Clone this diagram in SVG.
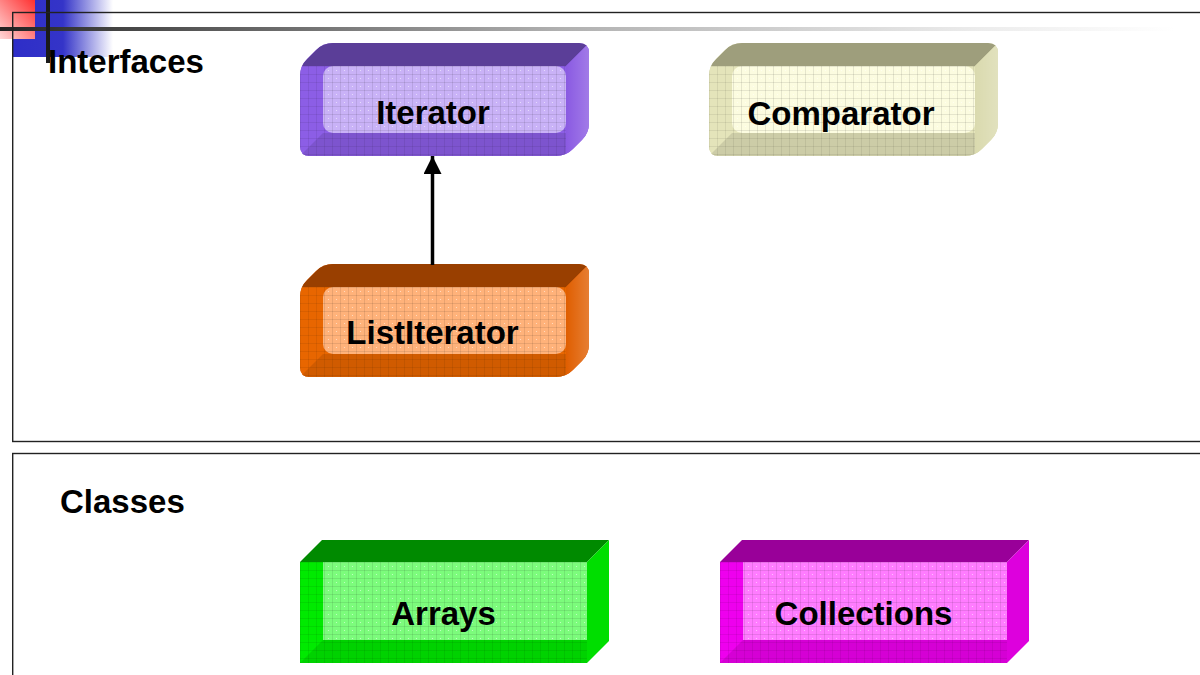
<svg xmlns="http://www.w3.org/2000/svg" width="1200" height="675" viewBox="0 0 1200 675">
<style>
  text { font-family: "Liberation Sans", Arial, sans-serif; font-weight: bold; font-size: 33px; fill: #000; }
  .lbl { text-anchor: middle; }
  .frame { fill: none; stroke: #222; stroke-width: 1.4; }
  .shade { fill: #000; fill-opacity: 0.1; }
  .conn { stroke: #000; stroke-width: 3.5; fill: none; }
</style>
<defs>
  <linearGradient id="blueFade" x1="0" y1="0" x2="1" y2="0">
    <stop offset="0" stop-color="#2e2ec8"/>
    <stop offset="0.5" stop-color="#3434c8"/>
    <stop offset="1" stop-color="#ffffff"/>
  </linearGradient>
  <linearGradient id="redFade" x1="1" y1="0" x2="0" y2="1">
    <stop offset="0" stop-color="#ff3030"/>
    <stop offset="1" stop-color="#ffd8d8"/>
  </linearGradient>
  <linearGradient id="lineFade" x1="0" y1="0" x2="1" y2="0">
    <stop offset="0" stop-color="#222"/>
    <stop offset="0.085" stop-color="#404040"/>
    <stop offset="0.477" stop-color="#b0b0b0"/>
    <stop offset="0.834" stop-color="#ececec"/>
    <stop offset="1" stop-color="#ffffff"/>
  </linearGradient>
  <linearGradient id="sideGlow" x1="0" y1="0" x2="1" y2="0">
    <stop offset="0" stop-color="#fff" stop-opacity="0"/>
    <stop offset="1" stop-color="#fff" stop-opacity="0.2"/>
  </linearGradient>
  <pattern id="lgrid" width="8" height="8" patternUnits="userSpaceOnUse">
    <path d="M0,0.5H8M0.5,0V8" stroke="#000" stroke-opacity="0.09" stroke-width="1"/>
    <circle cx="4.5" cy="4.5" r="0.6" fill="#fff" fill-opacity="0.6"/>
  </pattern>
  <pattern id="dgrid" width="8" height="8" patternUnits="userSpaceOnUse">
    <path d="M0,0.5H8M0.5,0V8" stroke="#000" stroke-opacity="0.07" stroke-width="1"/>
  </pattern>
  <clipPath id="rClip">
    <path d="M0,10 Q0,0 7,-7 L16,-16 Q23,-23 33,-23 L279,-23 Q289,-23 289,-13 L289,57 Q289,67 282,74 L273,83 Q266,90 256,90 L10,90 Q0,90 0,80 Z"/>
  </clipPath>
  <!-- rounded (interface) box faces, front top-left at origin -->
  <rect id="rAll" x="0" y="-23" width="289" height="113"/>
  <polygon id="rTop" points="0,0 23,-23 289,-23 266,0"/>
  <polygon id="rSide" points="266,0 289,-23 289,67 266,90"/>
  <rect id="rFront" x="0" y="0" width="266" height="90"/>
  <polygon id="rBottom" points="0,90 23,67 266,67 266,90"/>
  <rect id="rInner" x="23" y="0" width="243" height="67" rx="10"/>
  <!-- square (class) box faces -->
  <polygon id="sTop" points="0,0 22,-22 309,-22 287,0"/>
  <polygon id="sSide" points="287,0 309,-22 309,79 287,101"/>
  <rect id="sFront" x="0" y="0" width="287" height="101"/>
  <polygon id="sBottom" points="0,101 23,78 287,78 287,101"/>
  <rect id="sInner" x="23" y="0" width="264" height="78"/>
  <marker id="arrowHead" markerUnits="userSpaceOnUse" markerWidth="18" markerHeight="18" refX="18" refY="9" orient="auto">
    <path d="M0,0 L18,9 L0,18 Z" fill="#000"/>
  </marker>
</defs>

<!-- background decoration -->
<rect x="13" y="0" width="100" height="57" fill="url(#blueFade)"/>
<rect x="0" y="0" width="35" height="39" fill="url(#redFade)"/>
<rect x="0" y="27" width="1175" height="4" fill="url(#lineFade)"/>
<rect x="46" y="0" width="4" height="63" fill="#1a1a1a"/>

<!-- frames -->
<rect class="frame" x="12.7" y="12.5" width="1200" height="429"/>
<rect class="frame" x="12.7" y="453.5" width="1200" height="240"/>

<text x="48" y="72.5">Interfaces</text>
<text x="60" y="512.5">Classes</text>

<g id="iterator">
  <g transform="translate(300,66)" clip-path="url(#rClip)">
    <use href="#rAll" fill="#8a5ae2"/>
    <use href="#rTop" fill="#5b3e98"/>
    <use href="#rSide" fill="#8a5ae2"/>
    <use href="#rSide" fill="url(#sideGlow)"/>
    <use href="#rFront" fill="#8c5ee6"/>
    <use href="#rBottom" class="shade"/>
    <use href="#rFront" fill="url(#dgrid)"/>
    <use href="#rInner" fill="#c9b2f7"/>
    <use href="#rInner" fill="url(#lgrid)"/>
  </g>
  <text class="lbl" x="433" y="124">Iterator</text>
</g>

<g id="comparator">
  <g transform="translate(709,66)" clip-path="url(#rClip)">
    <use href="#rAll" fill="#dadaae"/>
    <use href="#rTop" fill="#9e9e7c"/>
    <use href="#rSide" fill="#dadaae"/>
    <use href="#rSide" fill="url(#sideGlow)"/>
    <use href="#rFront" fill="#e4e4ba"/>
    <use href="#rBottom" class="shade"/>
    <use href="#rFront" fill="url(#dgrid)"/>
    <use href="#rInner" fill="#fcfce0"/>
    <use href="#rInner" fill="url(#lgrid)"/>
  </g>
  <text class="lbl" x="841" y="124.5">Comparator</text>
</g>

<g id="listiterator">
  <g transform="translate(300,287)" clip-path="url(#rClip)">
    <use href="#rAll" fill="#e05e00"/>
    <use href="#rTop" fill="#993f00"/>
    <use href="#rSide" fill="#e05e00"/>
    <use href="#rSide" fill="url(#sideGlow)"/>
    <use href="#rFront" fill="#e86600"/>
    <use href="#rBottom" class="shade"/>
    <use href="#rFront" fill="url(#dgrid)"/>
    <use href="#rInner" fill="#ffb27a"/>
    <use href="#rInner" fill="url(#lgrid)"/>
  </g>
  <text class="lbl" x="432.5" y="344">ListIterator</text>
</g>

<g id="arrays">
  <g transform="translate(300,562)">
    <use href="#sTop" fill="#008a00"/>
    <use href="#sSide" fill="#00de00"/>
    <use href="#sFront" fill="#00ea00"/>
    <use href="#sBottom" class="shade"/>
    <use href="#sFront" fill="url(#dgrid)"/>
    <use href="#sInner" fill="#7cfc7c"/>
    <use href="#sInner" fill="url(#lgrid)"/>
  </g>
  <text class="lbl" x="443.5" y="625">Arrays</text>
</g>

<g id="collections">
  <g transform="translate(720,562)">
    <use href="#sTop" fill="#990099"/>
    <use href="#sSide" fill="#dd00dd"/>
    <use href="#sFront" fill="#ee00ee"/>
    <use href="#sBottom" class="shade"/>
    <use href="#sFront" fill="url(#dgrid)"/>
    <use href="#sInner" fill="#ff7cff"/>
    <use href="#sInner" fill="url(#lgrid)"/>
  </g>
  <text class="lbl" x="863.5" y="625">Collections</text>
</g>

<g id="connectors">
  <line class="conn" x1="432.5" y1="265" x2="432.5" y2="156" marker-end="url(#arrowHead)"/>
</g>
</svg>
